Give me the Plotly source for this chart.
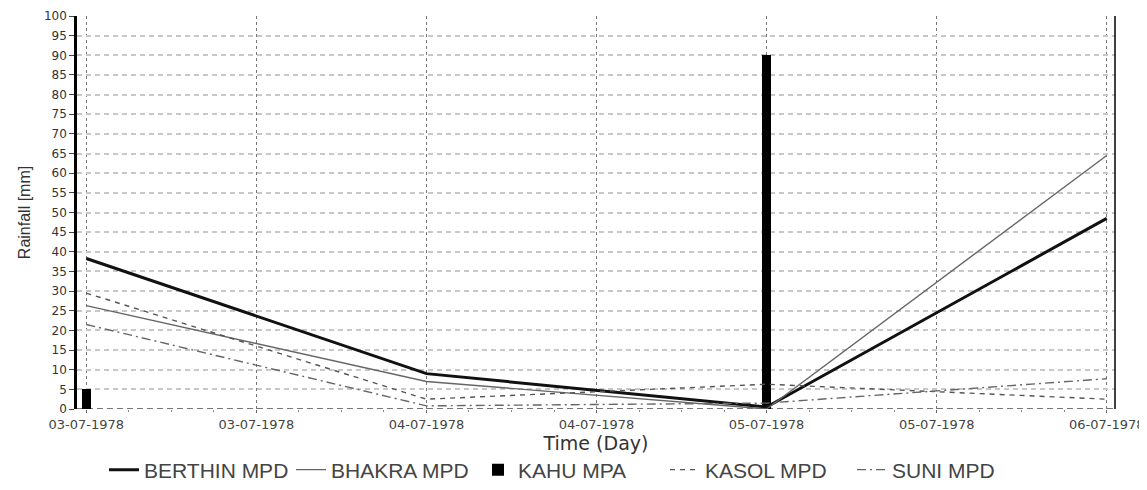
import plotly.graph_objects as go

# ---- data ----
dates = ["1978-07-03", "1978-07-04", "1978-07-05", "1978-07-06"]
berthin = [38.3, 9.0, 0.5, 48.5]
bhakra = [26.3, 7.0, 0.0, 64.5]
kahu = [5, 0, 90, 0]
kasol = [29.5, 2.5, 6.3, 2.5]
suni = [21.5, 0.8, 1.5, 7.7]
y_ticks = list(range(0, 101, 5))

TICK_FONT = "DejaVu Sans, Verdana, sans-serif"
TEXT_FONT = "Liberation Sans, Arial, sans-serif"

fig = go.Figure()

fig.add_trace(go.Bar(
    x=dates, y=kahu, name="KAHU MPA",
    marker=dict(color="black", line=dict(width=0)),
    width=2_200_000,
))
fig.add_trace(go.Scatter(
    x=dates, y=berthin, name="BERTHIN MPD", mode="lines",
    line=dict(color="#111111", width=3),
))
fig.add_trace(go.Scatter(
    x=dates, y=bhakra, name="BHAKRA MPD", mode="lines",
    line=dict(color="#666666", width=1.4),
))
fig.add_trace(go.Scatter(
    x=dates, y=kasol, name="KASOL MPD", mode="lines",
    line=dict(color="#555555", width=1.4, dash="5px,5px"),
))
fig.add_trace(go.Scatter(
    x=dates, y=suni, name="SUNI MPD", mode="lines",
    line=dict(color="#666666", width=1.4, dash="9px,4px,2px,4px"),
))

# bottom dashed baseline and thin right border
fig.add_shape(type="line", xref="paper", yref="y", x0=0, x1=1, y0=0, y1=0,
              line=dict(color="#777777", width=2, dash="6px,4px"), layer="below")
fig.add_shape(type="line", xref="paper", yref="paper", x0=1, x1=1, y0=0, y1=1,
              line=dict(color="black", width=1.5), layer="above")

# page body has an 8px default margin, so the figure is 8px smaller
PLOT_H = 482 - 8 - 81
fig.update_layout(
    template="none",
    width=1139, height=482,
    margin=dict(l=69, r=32, t=8, b=81, autoexpand=False),
    paper_bgcolor="white", plot_bgcolor="white",
    bargap=0,
    legend=dict(
        orientation="h", x=(104 - 77) / 1038, xanchor="left",
        y=(409 - 470) / PLOT_H, yanchor="middle",
        traceorder="normal",
        font=dict(family=TEXT_FONT, size=21, color="#444444"),
        entrywidthmode="pixels", entrywidth=142,
        itemwidth=30, bgcolor="rgba(0,0,0,0)", borderwidth=0,
    ),
    xaxis=dict(
        type="date", automargin=False,
        range=["1978-07-02 23:20:36", "1978-07-06 00:35:00"],
        tick0="1978-07-03", dtick=43200000, tickformat="%d-%m-%Y",
        showgrid=True, gridcolor="#777777", griddash="3px,3px", gridwidth=1,
        ticks="outside", ticklen=3, tickcolor="#666666",
        ticklabeloverflow="allow",
        tickfont=dict(family=TICK_FONT, size=13, color="#444444"),
        minor=dict(dtick=10800000, ticks="outside", ticklen=2, tickcolor="#888888", showgrid=False),
        showline=False, zeroline=False,
        title=dict(text="Time (Day)", font=dict(family=TICK_FONT, size=19, color="#333333"), standoff=0),
    ),
    yaxis=dict(
        automargin=False,
        range=[0, 100], tickvals=y_ticks,
        showgrid=True, gridcolor="#c8c8c8", griddash="5px,4px", gridwidth=1.5,
        showline=True, linecolor="black", linewidth=2.5, mirror=False,
        ticks="outside", ticklen=5, tickcolor="#444444",
        tickfont=dict(family=TICK_FONT, size=12, color="#333333"),
        zeroline=False,
        title=dict(text="Rainfall [mm]", font=dict(family=TEXT_FONT, size=16, color="#333333"), standoff=10),
    ),
    showlegend=True,
)

# legend order as in reference
order = ["BERTHIN MPD", "BHAKRA MPD", "KAHU MPA", "KASOL MPD", "SUNI MPD"]
for i, name in enumerate(order):
    fig.update_traces(legendrank=i + 1, selector=dict(name=name))

fig.write_html("out.html")
